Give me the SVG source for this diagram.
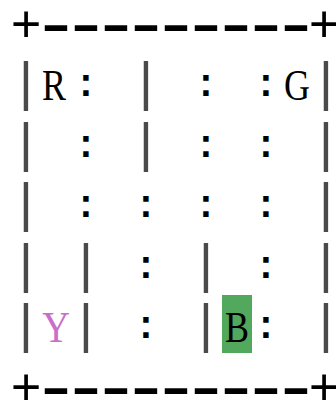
<svg xmlns="http://www.w3.org/2000/svg" width="336" height="400" viewBox="0 0 336 400">
<style>
text{font-family:"Liberation Mono","DejaVu Sans Mono",monospace;fill:#000;text-anchor:middle}
.p{font-size:52px}
.d{font-size:48px;font-weight:bold}
.b{font-size:54px;fill:#4a4a4a}
.c{font-size:38px;font-weight:bold}
.l{font-family:"Liberation Serif","DejaVu Serif",serif;font-size:45px}
.y{fill:#c96fc9}
</style>
<rect width="336" height="400" fill="#fff"/>
<g id="border-top">
<text class="p" x="26" y="42">+</text>
<text class="d" transform="scale(1.65 1)" x="33.94 52.12 70.30 88.48 106.67 124.85 143.03 161.21 179.39" y="41">---------</text>
<text class="p" x="324" y="42">+</text>
</g>
<g id="row1">
<text y="100"><tspan class="b" x="26">|</tspan><tspan class="c" x="86" dy="-4">:</tspan><tspan class="b" x="146" dy="4">|</tspan><tspan class="c" x="206" dy="-4">:</tspan><tspan class="c" x="266">:</tspan><tspan class="b" x="326" dy="4">|</tspan></text>
<text class="l" transform="translate(54 100) scale(0.8 1)" x="0" y="0">R</text>
<text class="l" transform="translate(297 100) scale(0.8 1)" x="0" y="0">G</text>
</g>
<g id="row2">
<text y="160.5"><tspan class="b" x="26">|</tspan><tspan class="c" x="86" dy="-4">:</tspan><tspan class="b" x="146" dy="4">|</tspan><tspan class="c" x="206" dy="-4">:</tspan><tspan class="c" x="266">:</tspan><tspan class="b" x="326" dy="4">|</tspan></text>
</g>
<g id="row3">
<text y="221"><tspan class="b" x="26">|</tspan><tspan class="c" x="86" dy="-4">:</tspan><tspan class="c" x="146">:</tspan><tspan class="c" x="206">:</tspan><tspan class="c" x="266">:</tspan><tspan class="b" x="326" dy="4">|</tspan></text>
</g>
<g id="row4">
<text y="281.5"><tspan class="b" x="26">|</tspan><tspan class="b" x="86">|</tspan><tspan class="c" x="146" dy="-4">:</tspan><tspan class="b" x="206" dy="4">|</tspan><tspan class="c" x="266" dy="-4">:</tspan><tspan class="b" x="326" dy="4">|</tspan></text>
</g>
<g id="row5">
<rect x="222" y="295" width="30" height="58" fill="#52a95d"/>
<text y="342"><tspan class="b" x="26">|</tspan><tspan class="b" x="86">|</tspan><tspan class="c" x="146" dy="-4">:</tspan><tspan class="b" x="206" dy="4">|</tspan><tspan class="c" x="266" dy="-4">:</tspan><tspan class="b" x="326" dy="4">|</tspan></text>
<text class="l y" transform="translate(56 342) scale(0.85 1)" x="0" y="0">Y</text>
<text class="l" transform="translate(237 342) scale(0.8 1)" x="0" y="0">B</text>
</g>
<g id="border-bottom">
<text class="p" x="26" y="405">+</text>
<text class="d" transform="scale(1.65 1)" x="33.94 52.12 70.30 88.48 106.67 124.85 143.03 161.21 179.39" y="404">---------</text>
<text class="p" x="324" y="405">+</text>
</g>
</svg>
